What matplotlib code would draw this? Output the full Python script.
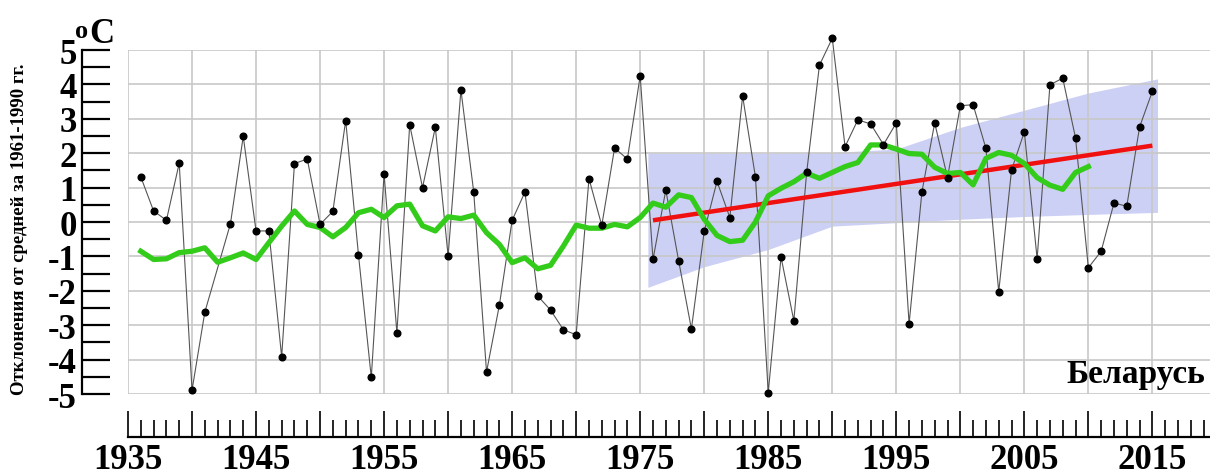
import numpy as np
import matplotlib
matplotlib.use('Agg')
import matplotlib.pyplot as plt
from matplotlib.ticker import MultipleLocator, FixedLocator, FuncFormatter

plt.rcParams['font.family'] = ['Liberation Serif', 'DejaVu Serif']
plt.rcParams['font.weight'] = 'bold'

# Annual anomalies (1942 missing)
years = [1936, 1937, 1938, 1939, 1940, 1941, 1943, 1944, 1945, 1946, 1947, 1948, 1949,
         1950, 1951, 1952, 1953, 1954, 1955, 1956, 1957, 1958, 1959, 1960, 1961, 1962,
         1963, 1964, 1965, 1966, 1967, 1968, 1969, 1970, 1971, 1972, 1973, 1974, 1975,
         1976, 1977, 1978, 1979, 1980, 1981, 1982, 1983, 1984, 1985, 1986, 1987, 1988,
         1989, 1990, 1991, 1992, 1993, 1994, 1995, 1996, 1997, 1998, 1999, 2000, 2001,
         2002, 2003, 2004, 2005, 2006, 2007, 2008, 2009, 2010, 2011, 2012, 2013, 2014,
         2015]
anomaly = [1.31, 0.32, 0.05, 1.71, -4.89, -2.62, -0.05, 2.49, -0.26, -0.26, -3.92, 1.70, 1.83,
           -0.07, 0.31, 2.95, -0.96, -4.52, 1.39, -3.22, 2.83, 1.00, 2.75, -0.99, 3.84, 0.87,
           -4.36, -2.42, 0.05, 0.87, -2.15, -2.56, -3.13, -3.28, 1.26, -0.10, 2.15, 1.83, 4.25,
           -1.09, 0.93, -1.12, -3.11, -0.27, 1.18, 0.13, 3.66, 1.31, -4.96, -1.02, -2.87, 1.44,
           4.56, 5.34, 2.19, 2.97, 2.85, 2.25, 2.88, -2.96, 0.87, 2.88, 1.29, 3.38, 3.41,
           2.14, -2.03, 1.51, 2.62, -1.07, 3.99, 4.18, 2.44, -1.33, -0.85, 0.55, 0.46, 2.76,
           3.80]

# Moving average
ma_years = list(range(1936, 2011))
ma_vals = [-0.85, -1.09, -1.07, -0.89, -0.85, -0.75, -1.17, -1.04, -0.90, -1.09,
           -0.60, -0.12, 0.32, -0.07, -0.16, -0.43, -0.16, 0.27, 0.37, 0.13,
           0.47, 0.52, -0.11, -0.26, 0.15, 0.10, 0.20, -0.31, -0.65, -1.18,
           -1.04, -1.36, -1.26, -0.70, -0.09, -0.18, -0.18, -0.07, -0.14, 0.13,
           0.55, 0.43, 0.79, 0.71, 0.08, -0.39, -0.57, -0.53, 0.00, 0.76,
           0.98, 1.17, 1.42, 1.27, 1.44, 1.61, 1.73, 2.24, 2.24, 2.12,
           1.99, 1.97, 1.59, 1.41, 1.44, 1.08, 1.85, 2.02, 1.94, 1.70,
           1.29, 1.07, 0.95, 1.44, 1.61]

# Linear trend 1976-2015
trend_years = [1976, 2015]
trend_vals = [0.05, 2.22]

# Band around the trend
band_years = [1975.6, 1980, 1985, 1990, 1995, 2000, 2005, 2010, 2015.4]
band_upper = [2.0, 2.0, 2.0, 2.02, 2.12, 2.75, 3.25, 3.75, 4.16]
band_lower = [-1.9, -1.3, -0.8, -0.12, -0.02, 0.08, 0.16, 0.22, 0.28]

W, H = 1210, 477
fig = plt.figure(figsize=(W / 100, H / 100), dpi=100)
ax = fig.add_axes([128 / W, 1 - 395 / H, (W - 128) / W, (395 - 51) / H])

ax.fill_between(band_years, band_lower, band_upper, color='#cdd0f5', lw=0, zorder=1)
ax.plot(years, anomaly, color='#555555', lw=0.8, zorder=3, clip_on=False)
ax.plot(years, anomaly, 'o', color='black', ms=4.8, zorder=5, clip_on=False)
ax.plot(trend_years, trend_vals, color='#f01010', lw=3.2, solid_capstyle='butt', zorder=4)
ax.plot(ma_years, ma_vals, color='#33cc1a', lw=3.8, zorder=4)

ax.set_xlim(1935, 2019.5)
ax.set_ylim(-5, 5)

ax.grid(True, color='#c8c8c8', lw=1.2)
ax.set_axisbelow(False)
for gl in ax.get_xgridlines() + ax.get_ygridlines():
    gl.set_zorder(2)

for s in ['top', 'right']:
    ax.spines[s].set_visible(False)
ax.spines['left'].set_position(('outward', 33))
ax.spines['bottom'].set_position(('outward', 31))
ax.spines['left'].set_linewidth(1.6)
ax.spines['bottom'].set_linewidth(1.6)

# y axis
ax.yaxis.set_major_locator(MultipleLocator(1))
ax.yaxis.set_minor_locator(MultipleLocator(0.5))
ax.tick_params(axis='y', which='both', direction='in', length=20, width=1.6,
               labelsize=25, pad=4)
ax.yaxis.set_major_formatter(FuncFormatter(lambda v, p: '%d' % v))

# x axis
ax.xaxis.set_major_locator(FixedLocator(list(range(1935, 2020, 5))))
ax.xaxis.set_minor_locator(MultipleLocator(1))
ax.xaxis.set_major_formatter(FuncFormatter(
    lambda v, p: '%d' % v if int(round(v)) % 10 == 5 else ''))
ax.tick_params(axis='x', which='major', direction='in', length=19, width=1.2,
               labelsize=25, pad=4)
ax.tick_params(axis='x', which='minor', direction='in', length=12, width=1.2)
for lbl in ax.get_xticklabels() + ax.get_yticklabels():
    lbl.set_fontweight('bold')

fig.text(20 / W, 1 - 229 / H, 'Отклонения от средней за 1961-1990 гг.', rotation=90,
         ha='center', va='center', fontsize=13.5, fontweight='bold')
fig.text(75 / W, 1 - 20 / H, 'o', ha='left', va='top', fontsize=19, fontweight='bold')
fig.text(89 / W, 1 - 43 / H, 'C', ha='left', va='baseline', fontsize=25, fontweight='bold')
fig.text(1205 / W, 1 - 383 / H, 'Беларусь', ha='right', va='baseline', fontsize=24,
         fontweight='bold')

fig.savefig('out.png', dpi=100)
